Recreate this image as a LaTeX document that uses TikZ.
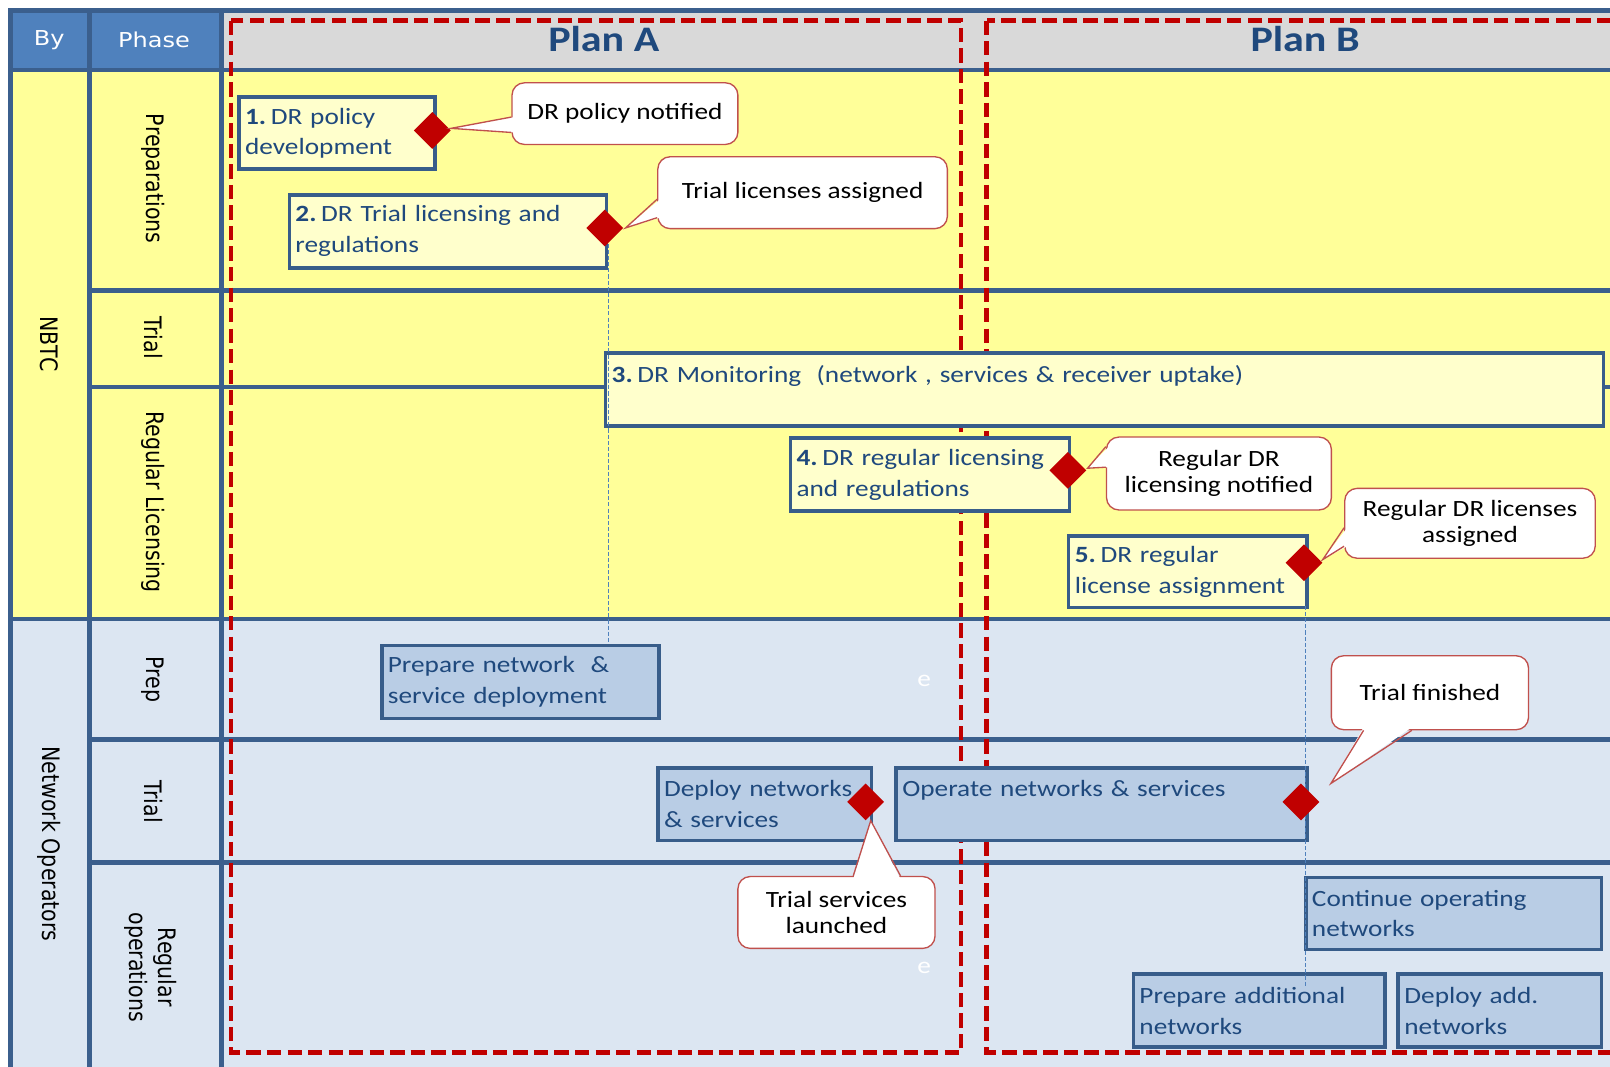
\documentclass[tikz,border=0pt]{standalone}
\usepackage{fontspec}
\setmainfont{Carlito}[FakeStretch=1.17]
\newfontfamily\lanefont{DejaVu Sans}
\newfontfamily\hdrfont{DejaVu Sans}[FakeStretch=1.17]
\usetikzlibrary{shapes.geometric,calc}

\definecolor{gridblue}{HTML}{3B5F8D}
\definecolor{hdrblue}{HTML}{4F81BD}
\definecolor{hdrgrey}{HTML}{D9D9D9}
\definecolor{laneyellow}{HTML}{FFFF99}
\definecolor{lanelight}{HTML}{DCE6F2}
\definecolor{boxyellow}{HTML}{FFFFCC}
\definecolor{boxblue}{HTML}{B9CDE5}
\definecolor{boxedge}{HTML}{385D8A}
\definecolor{tasktext}{HTML}{1F497D}
\definecolor{planred}{HTML}{C00000}
\definecolor{calloutred}{HTML}{C0504D}
\definecolor{msred}{HTML}{C00000}
\definecolor{linkblue}{HTML}{4F81BD}

\newcommand\taskfont{\fontsize{22.7pt}{30pt}\selectfont}
\newcommand\callfont{\fontsize{22.7pt}{25pt}\selectfont}
% bold step number followed by a tight gap
\newcommand\stepno[1]{\textbf{#1.}\hspace{4.5pt}}

\begin{document}
\begin{tikzpicture}[x=1pt,y=-1pt,
  gridline/.style={draw=gridblue,line width=4.5pt},
  planframe/.style={draw=planred,line width=4.5pt,dash pattern=on 14pt off 6pt},
  plantitle/.style={text=tasktext,font=\fontsize{35pt}{40pt}\selectfont\bfseries},
  hdrlabel/.style={text=white,font=\hdrfont\fontsize{20pt}{22pt}\selectfont},
  lanelabel/.style={rotate=-90,yscale=1.17,align=center,font=\lanefont\fontsize{20pt}{24pt}\selectfont},
  task/.style={draw=boxedge,line width=3.5pt,anchor=north west,align=left,
    inner xsep=6pt,inner ysep=0pt,text=tasktext,font=\taskfont},
  nbtctask/.style={task,fill=boxyellow},
  optask/.style={task,fill=boxblue},
  milestone/.style={diamond,fill=msred,minimum width=36pt,minimum height=36pt,inner sep=0pt},
  callout/.style={draw=calloutred,line width=1.3pt,fill=white,rounded corners=12pt,
    anchor=north west,align=center,font=\callfont,inner sep=0pt},
  callline/.style={draw=calloutred,line width=1.3pt,line join=miter},
  link/.style={draw=linkblue,line width=0.8pt,dash pattern=on 4pt off 2pt}]

\useasboundingbox (0,0) rectangle (1568,1039);
\clip (0,0) rectangle (1568,1039);
\fill[white] (0,0) rectangle (1568,1039);

% lane backgrounds
\fill[hdrblue] (10,10) rectangle (216,68);
\fill[hdrgrey] (216,10) rectangle (1600,68);
\fill[laneyellow] (10,68) rectangle (1600,603);
\fill[lanelight] (10,603) rectangle (1600,1060);

% grid
\draw[gridline] (10,1060) -- (10,10) -- (1600,10);
\draw[gridline] (87,10) -- (87,1060);
\draw[gridline] (216,10) -- (216,1060);
\draw[gridline] (10,68) -- (1600,68);
\draw[gridline] (87,283) -- (1600,283);
\draw[gridline] (87,377) -- (600,377);
\draw[gridline] (1550,377) -- (1600,377);
\draw[gridline] (10,603) -- (1600,603);
\draw[gridline] (87,720) -- (1600,720);
\draw[gridline] (87,840) -- (1600,840);

% header labels
\node[hdrlabel] (hBy) at (48,39) {By};
\node[hdrlabel] (hPhase) at (150,39) {Phase};

% organisation and phase labels
\path (48,335) node[lanelabel] (lNBTC) {NBTC};
\path (48,822) node[lanelabel] (lNO) {Network Operators};
\path (149,174) node[lanelabel] (lPrep) {Preparations};
\path (149,329) node[lanelabel] (lTrial) {Trial};
\path (149,489) node[lanelabel] (lReg) {Regular Licensing};
\path (149,662) node[lanelabel] (lOpPrep) {Prep};
\path (149,781) node[lanelabel] (lOpTrial) {Trial};
\path (147,942) node[lanelabel] (lOpReg) {Regular\\operations};

% plan frames
\draw[planframe] (225,20) rectangle (936,1025);
\draw[planframe] (961,20) rectangle (1600,1025);
\node[plantitle] (planA) at (588,38) {Plan A};
\node[plantitle] (planB) at (1271,38) {Plan B};

% stray glyphs
\node[text=white,font=\taskfont] (e1) at (900,663) {e};
\node[text=white,font=\taskfont] (e2) at (900,943) {e};

% NBTC tasks
\node[nbtctask,minimum width=191pt,minimum height=70pt,text width=179pt] (b1) at (231,93)
  {\stepno{1}DR policy\\development};
\node[nbtctask,minimum width=309pt,minimum height=71pt,text width=297pt] (b2) at (280,188)
  {\stepno{2}DR Trial licensing and\\regulations};
\node[nbtctask,minimum width=972pt,minimum height=71pt,text width=960pt] (b3) at (588,342)
  {\stepno{3}DR Monitoring\ \ (network\ , services \& receiver uptake)\\\mbox{}};
\node[nbtctask,minimum width=272pt,minimum height=71pt,text width=260pt] (b4) at (768,425)
  {\stepno{4}DR regular licensing\\and regulations};
\node[nbtctask,minimum width=232pt,minimum height=70pt,text width=220pt] (b5) at (1039,520)
  {\stepno{5}DR regular\\license assignment};

% operator tasks
\node[optask,minimum width=270pt,minimum height=71pt,text width=258pt] (prep) at (370,627)
  {Prepare network\ \ \&\\service deployment};
\node[optask,minimum width=208pt,minimum height=71pt,text width=196pt] (deploy) at (639,746)
  {Deploy networks\\\& services};
\node[optask,minimum width=400pt,minimum height=71pt,text width=388pt] (operate) at (871,746)
  {Operate networks\ \& services\\\mbox{}};
\node[optask,minimum width=288pt,minimum height=70pt,text width=276pt] (cont) at (1270,853)
  {Continue operating\\networks};
\node[optask,minimum width=245pt,minimum height=71pt,text width=233pt] (addl) at (1102,947)
  {Prepare additional\\networks};
\node[optask,minimum width=198pt,minimum height=71pt,text width=186pt] (depadd) at (1360,947)
  {Deploy add.\\networks};

% dependency links
\draw[link] (b2.east) -- (b2.east |- prep.north);
\coordinate (link5end) at ($(1271,590 |- addl.north)+(0,13)$);
\draw[link] (1271,590) -- (link5end);

% milestones
\node[milestone] (d1) at (421,127) {};
\node[milestone] (d2) at (589,222) {};
\node[milestone] (d4) at (1040,458) {};
\node[milestone] (d5) at (1270,548) {};
\node[milestone] (dDep) at (843,781) {};
\node[milestone] (dOp) at (1267,781) {};

% callouts
\node[callout,minimum width=220pt,minimum height=60pt] (c1) at (498,80) {DR policy notified};
\node[callout,minimum width=282pt,minimum height=70pt] (c2) at (640,152) {Trial licenses assigned};
\node[callout,minimum width=219pt,minimum height=71pt] (c4) at (1077,425) {Regular DR\\licensing notified};
\node[callout,minimum width=244pt,minimum height=68pt] (c5) at (1309,475) {Regular DR licenses\\assigned};
\node[callout,minimum width=192pt,minimum height=72pt] (cTF) at (1296,638) {Trial finished};
\node[callout,minimum width=192pt,minimum height=70pt] (cTS) at (718,853) {Trial services\\launched};

% callout pointers
\coordinate (p1a) at ($(c1.north west)+(0,34)$);
\coordinate (p1b) at ($(c1.north west)+(0,49)$);
\coordinate (p1t) at ($(d1.east)+(0,-2)$);
\fill[white] (p1t) -- ($(p1a)+(3,0)$) -- ($(p1b)+(3,0)$) -- cycle;
\draw[callline] (p1a) -- (p1t) -- (p1b);

\coordinate (p2a) at ($(c2.north west)+(0,42)$);
\coordinate (p2b) at ($(c2.north west)+(0,60)$);
\coordinate (p2t) at ($(d2.east)+(2,0)$);
\fill[white] (p2t) -- ($(p2a)+(3,0)$) -- ($(p2b)+(3,0)$) -- cycle;
\draw[callline] (p2a) -- (p2t) -- (p2b);

\coordinate (p4a) at ($(c4.north west)+(0,10)$);
\coordinate (p4b) at ($(c4.north west)+(0,30)$);
\coordinate (p4t) at ($(d4.east)+(1,-2)$);
\fill[white] (p4t) -- ($(p4a)+(3,0)$) -- ($(p4b)+(3,0)$) -- cycle;
\draw[callline] (p4a) -- (p4t) -- (p4b);

\coordinate (p5a) at ($(c5.north west)+(0,39)$);
\coordinate (p5b) at ($(c5.north west)+(0,57)$);
\coordinate (p5t) at ($(d5.east)+(0,-3)$);
\fill[white] (p5t) -- ($(p5a)+(3,0)$) -- ($(p5b)+(3,0)$) -- cycle;
\draw[callline] (p5a) -- (p5t) -- (p5b);

\coordinate (pFa) at ($(cTF.south west)+(32,0)$);
\coordinate (pFb) at ($(cTF.south west)+(79,0)$);
\coordinate (pFt) at ($(dOp.east)+(11,-18)$);
\fill[white] (pFt) -- ($(pFa)+(0,-3)$) -- ($(pFb)+(0,-3)$) -- cycle;
\draw[callline] (pFa) -- (pFt) -- (pFb);

\coordinate (pSa) at ($(cTS.north west)+(113,0)$);
\coordinate (pSb) at ($(cTS.north west)+(159,0)$);
\coordinate (pSt) at ($(dDep.south)+(5,0)$);
\fill[white] (pSt) -- ($(pSa)+(0,3)$) -- ($(pSb)+(0,3)$) -- cycle;
\draw[callline] (pSa) -- (pSt) -- (pSb);

\end{tikzpicture}
\end{document}
